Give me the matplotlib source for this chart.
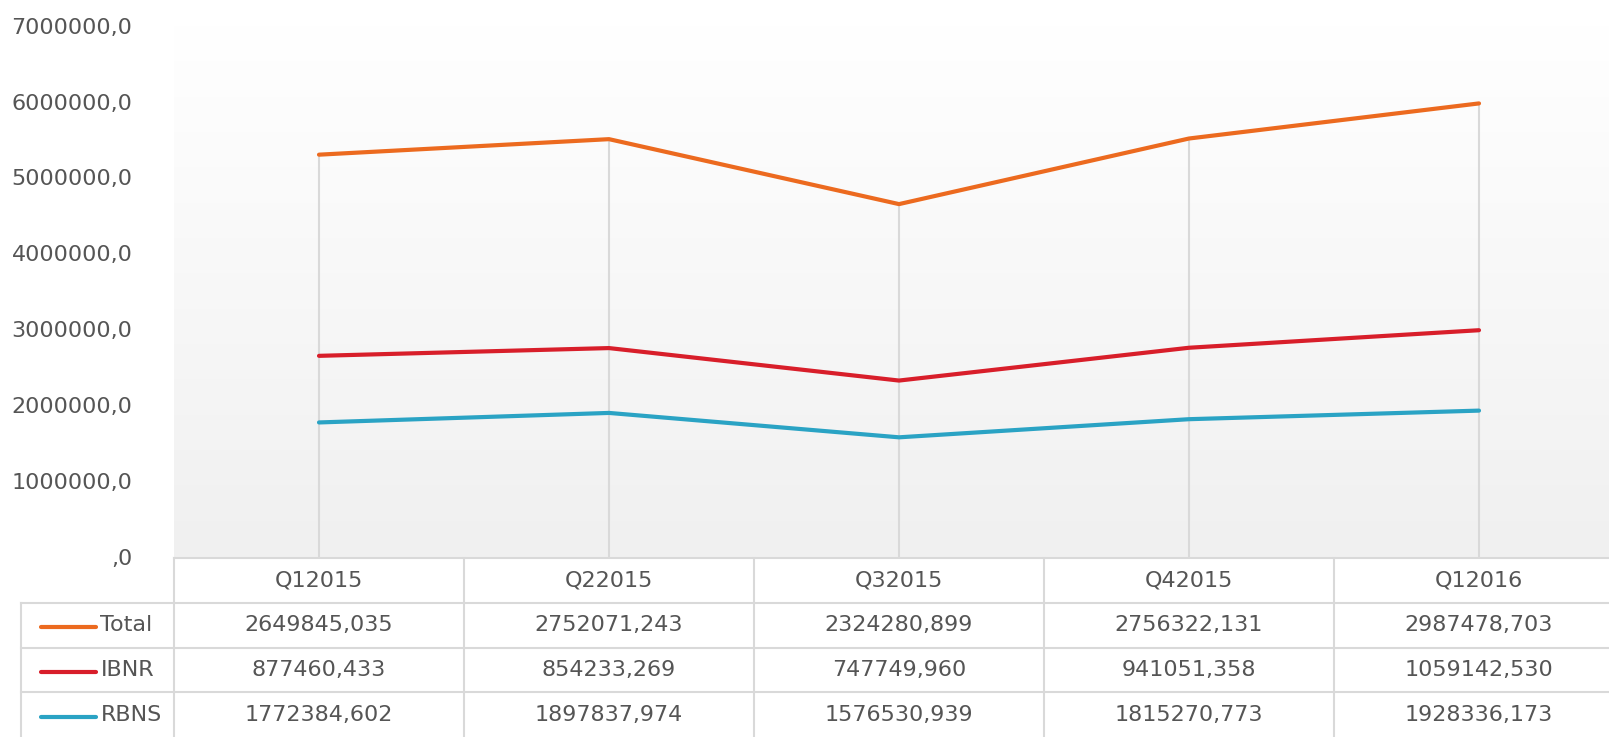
import numpy as np
import matplotlib.pyplot as plt
from matplotlib.colors import LinearSegmentedColormap
from matplotlib.ticker import FuncFormatter

# data from the table under the chart
quarters = ['Q12015', 'Q22015', 'Q32015', 'Q42015', 'Q12016']
total = [2649845.035, 2752071.243, 2324280.899, 2756322.131, 2987478.703]
ibnr = [877460.433, 854233.269, 747749.960, 941051.358, 1059142.530]
rbns = [1772384.602, 1897837.974, 1576530.939, 1815270.773, 1928336.173]

series_names = ['Total', 'IBNR', 'RBNS']
series_colors = ['#ec6a1f', '#d81e2a', '#2aa3c4']

text_color = '#555555'
grid_color = '#d9d9d9'

W, H = 1609, 737
fig = plt.figure(figsize=(W / 100, H / 100), dpi=100)

left = 174 / W
col_w = 290  # pixels per category column, last one runs off the figure
width = len(quarters) * col_w / W
ax = fig.add_axes([left, 1 - 557 / H, width, (557 - 25.6) / H])

x = np.arange(len(quarters))
# stacked lines: RBNS, RBNS + IBNR, RBNS + IBNR + Total
stack = np.cumsum([rbns, ibnr, total], axis=0)

# background gradient of the plot area
cmap = LinearSegmentedColormap.from_list('bg', ['#f0f0f0', '#ffffff'])
ax.imshow(np.linspace(0, 1, 256).reshape(-1, 1), cmap=cmap, origin='lower',
          extent=[-0.5, len(quarters) - 0.5, 0, 7e6], aspect='auto', zorder=0)

# drop lines
ax.vlines(x, 0, stack[-1], color=grid_color, lw=1.5, zorder=1)

for vals, col in zip(stack[::-1], series_colors):
    ax.plot(x, vals, color=col, lw=3, solid_capstyle='round', zorder=3)

ax.set_xlim(-0.5, len(quarters) - 0.5)
ax.set_ylim(0, 7e6)
ax.set_yticks(np.arange(0, 7e6 + 1, 1e6))
ax.yaxis.set_major_formatter(FuncFormatter(
    lambda v, p: ',0' if v == 0 else f'{v:.1f}'.replace('.', ',')))
ax.tick_params(axis='y', length=0, pad=30, labelsize=16, labelcolor=text_color)
ax.set_xticks([])
for s in ax.spines.values():
    s.set_visible(False)

# data table
tax = fig.add_axes([left, 0, width, (H - 558) / H])
tax.set_xlim(-0.5, len(quarters) - 0.5)
tax.set_ylim(0, 4)
tax.axis('off')

x0 = -0.5 - (174 - 20.5) / col_w      # left edge of legend column
xr = len(quarters) - 0.5

kw = dict(color=grid_color, lw=1.5, clip_on=False)
tax.plot([-0.5, xr], [4, 4], **kw)
for yy in [3, 2, 1]:
    tax.plot([x0, xr], [yy, yy], **kw)
for i in range(len(quarters) + 1):
    tax.plot([-0.5 + i, -0.5 + i], [0, 4], **kw)
tax.plot([x0, x0], [0, 3], **kw)

tfont = dict(fontsize=16, color=text_color, va='center')
for i, q in enumerate(quarters):
    tax.text(i, 3.5, q, ha='center', **tfont)

for r, (name, col, vals) in enumerate(zip(series_names, series_colors, [total, ibnr, rbns])):
    yy = 2.5 - r
    tax.plot([x0 + 20.5 / col_w, x0 + 75 / col_w], [yy - 0.05, yy - 0.05], color=col,
             lw=3, solid_capstyle='round', clip_on=False)
    tax.text(x0 + 80 / col_w, yy, name, ha='left', **tfont)
    for i, v in enumerate(vals):
        tax.text(i, yy, f'{v:.3f}'.replace('.', ','), ha='center', **tfont)

fig.savefig('out.png', dpi=100)
